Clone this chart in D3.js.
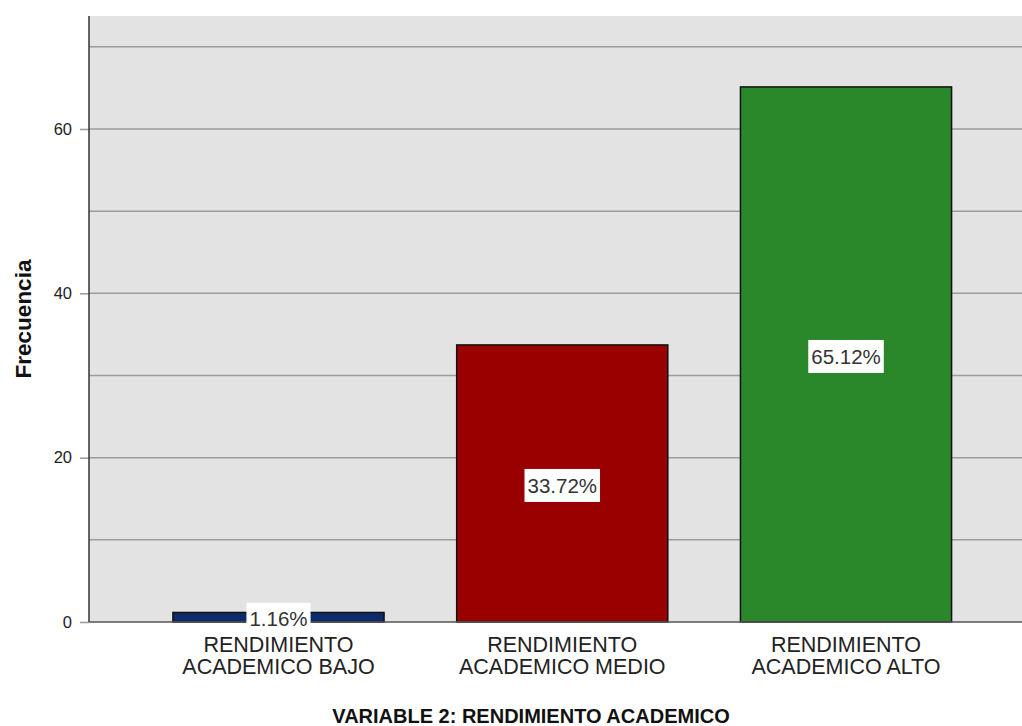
<!DOCTYPE html>
<html>
<head>
<meta charset="utf-8">
<script src="https://cdn.jsdelivr.net/npm/d3@7"></script>
<style>
  body { margin: 0; background: #fff; }
  svg { display: block; font-family: Arial, "Liberation Sans", sans-serif; }
</style>
</head>
<body>
<svg id="chart" width="1022" height="726"></svg>
<script>
// chart data
var categories = ["RENDIMIENTO ACADEMICO BAJO", "RENDIMIENTO ACADEMICO MEDIO", "RENDIMIENTO ACADEMICO ALTO"];
var labelLines = [["RENDIMIENTO", "ACADEMICO BAJO"], ["RENDIMIENTO", "ACADEMICO MEDIO"], ["RENDIMIENTO", "ACADEMICO ALTO"]];
var values = [1.16, 33.72, 65.12];
var pctLabels = ["1.16%", "33.72%", "65.12%"];
var barColors = ["#0c2a6c", "#990000", "#2a872a"];
var yTicks = [0, 20, 40, 60];
var gridTicks = [10, 20, 30, 40, 50, 60, 70];

var svg = d3.select("#chart");

// plot area (note: "top" is a reserved window prop, so use other names)
var plotLeft = 89, plotRight = 1022, plotTop = 16, plotBottom = 622;

var y = d3.scaleLinear().domain([0, 73.75]).range([plotBottom, plotTop]);
var x = d3.scaleBand()
    .domain(categories)
    .range([136.6, 987.9])
    .paddingInner(0.256)
    .paddingOuter(0.128);

svg.append("rect")
    .attr("x", plotLeft).attr("y", plotTop)
    .attr("width", plotRight - plotLeft).attr("height", plotBottom - plotTop)
    .attr("fill", "#e3e3e3");

// gridlines
svg.append("g").selectAll("line")
    .data(gridTicks)
    .join("line")
    .attr("x1", plotLeft).attr("x2", plotRight)
    .attr("y1", d => y(d)).attr("y2", d => y(d))
    .attr("stroke", "#9c9c9c")
    .attr("stroke-width", 1.5);

// y axis
var yAxis = svg.append("g")
    .attr("transform", "translate(" + plotLeft + ",0)")
    .call(d3.axisLeft(y).tickValues(yTicks).tickSize(9).tickPadding(8));
yAxis.select(".domain").remove();
yAxis.selectAll(".tick line").attr("stroke", "#999").attr("stroke-width", 1.5);
yAxis.selectAll(".tick text")
    .attr("fill", "#222")
    .style("font-size", "16.5px")
    .style("font-family", "Arial, 'Liberation Sans', sans-serif");

svg.append("line")
    .attr("x1", plotLeft).attr("x2", plotLeft)
    .attr("y1", plotTop).attr("y2", plotBottom)
    .attr("stroke", "#333").attr("stroke-width", 1.5);

// bars
svg.append("g").selectAll("rect")
    .data(values)
    .join("rect")
    .attr("x", (d, i) => x(categories[i]))
    .attr("y", d => y(d))
    .attr("width", x.bandwidth())
    .attr("height", d => y(0) - y(d))
    .attr("fill", (d, i) => barColors[i])
    .attr("stroke", "#111")
    .attr("stroke-width", 1.5);

// baseline
svg.append("line")
    .attr("x1", plotLeft).attr("x2", plotRight)
    .attr("y1", y(0)).attr("y2", y(0))
    .attr("stroke", "#555").attr("stroke-width", 1.5);

// percentage labels with white boxes
var lab = svg.append("g").selectAll("g")
    .data(values)
    .join("g")
    .attr("transform", (d, i) => "translate(" + (x(categories[i]) + x.bandwidth() / 2) + "," + (y(d / 2) + 2) + ")");

lab.each(function(d, i) {
    var g = d3.select(this);
    var t = g.append("text")
        .attr("text-anchor", "middle")
        .attr("dy", "0.35em")
        .attr("fill", "#333")
        .style("font-size", "20.5px")
        .text(pctLabels[i]);
    var bb = t.node().getBBox();
    g.insert("rect", "text")
        .attr("x", bb.x - 3).attr("y", -16.5)
        .attr("width", bb.width + 6).attr("height", 33)
        .attr("fill", "#fff");
});

// category labels
svg.append("g").selectAll("text")
    .data(categories)
    .join("text")
    .attr("text-anchor", "middle")
    .attr("fill", "#222")
    .style("font-size", "21.5px")
    .attr("x", d => x(d) + x.bandwidth() / 2)
    .attr("y", 652)
    .each(function(d, i) {
        var t = d3.select(this);
        labelLines[i].forEach(function(l, j) {
            t.append("tspan")
                .attr("x", x(d) + x.bandwidth() / 2)
                .attr("dy", j === 0 ? 0 : 22)
                .text(l);
        });
    });

// axis titles
svg.append("text")
    .attr("x", 531).attr("y", 723)
    .attr("text-anchor", "middle")
    .attr("font-weight", "bold")
    .attr("fill", "#111")
    .style("font-size", "20px")
    .text("VARIABLE 2: RENDIMIENTO ACADEMICO");

svg.append("text")
    .attr("transform", "translate(31," + ((plotTop + plotBottom) / 2) + ") rotate(-90)")
    .attr("text-anchor", "middle")
    .attr("font-weight", "bold")
    .attr("fill", "#111")
    .style("font-size", "22.5px")
    .text("Frecuencia");
</script>
</body>
</html>
